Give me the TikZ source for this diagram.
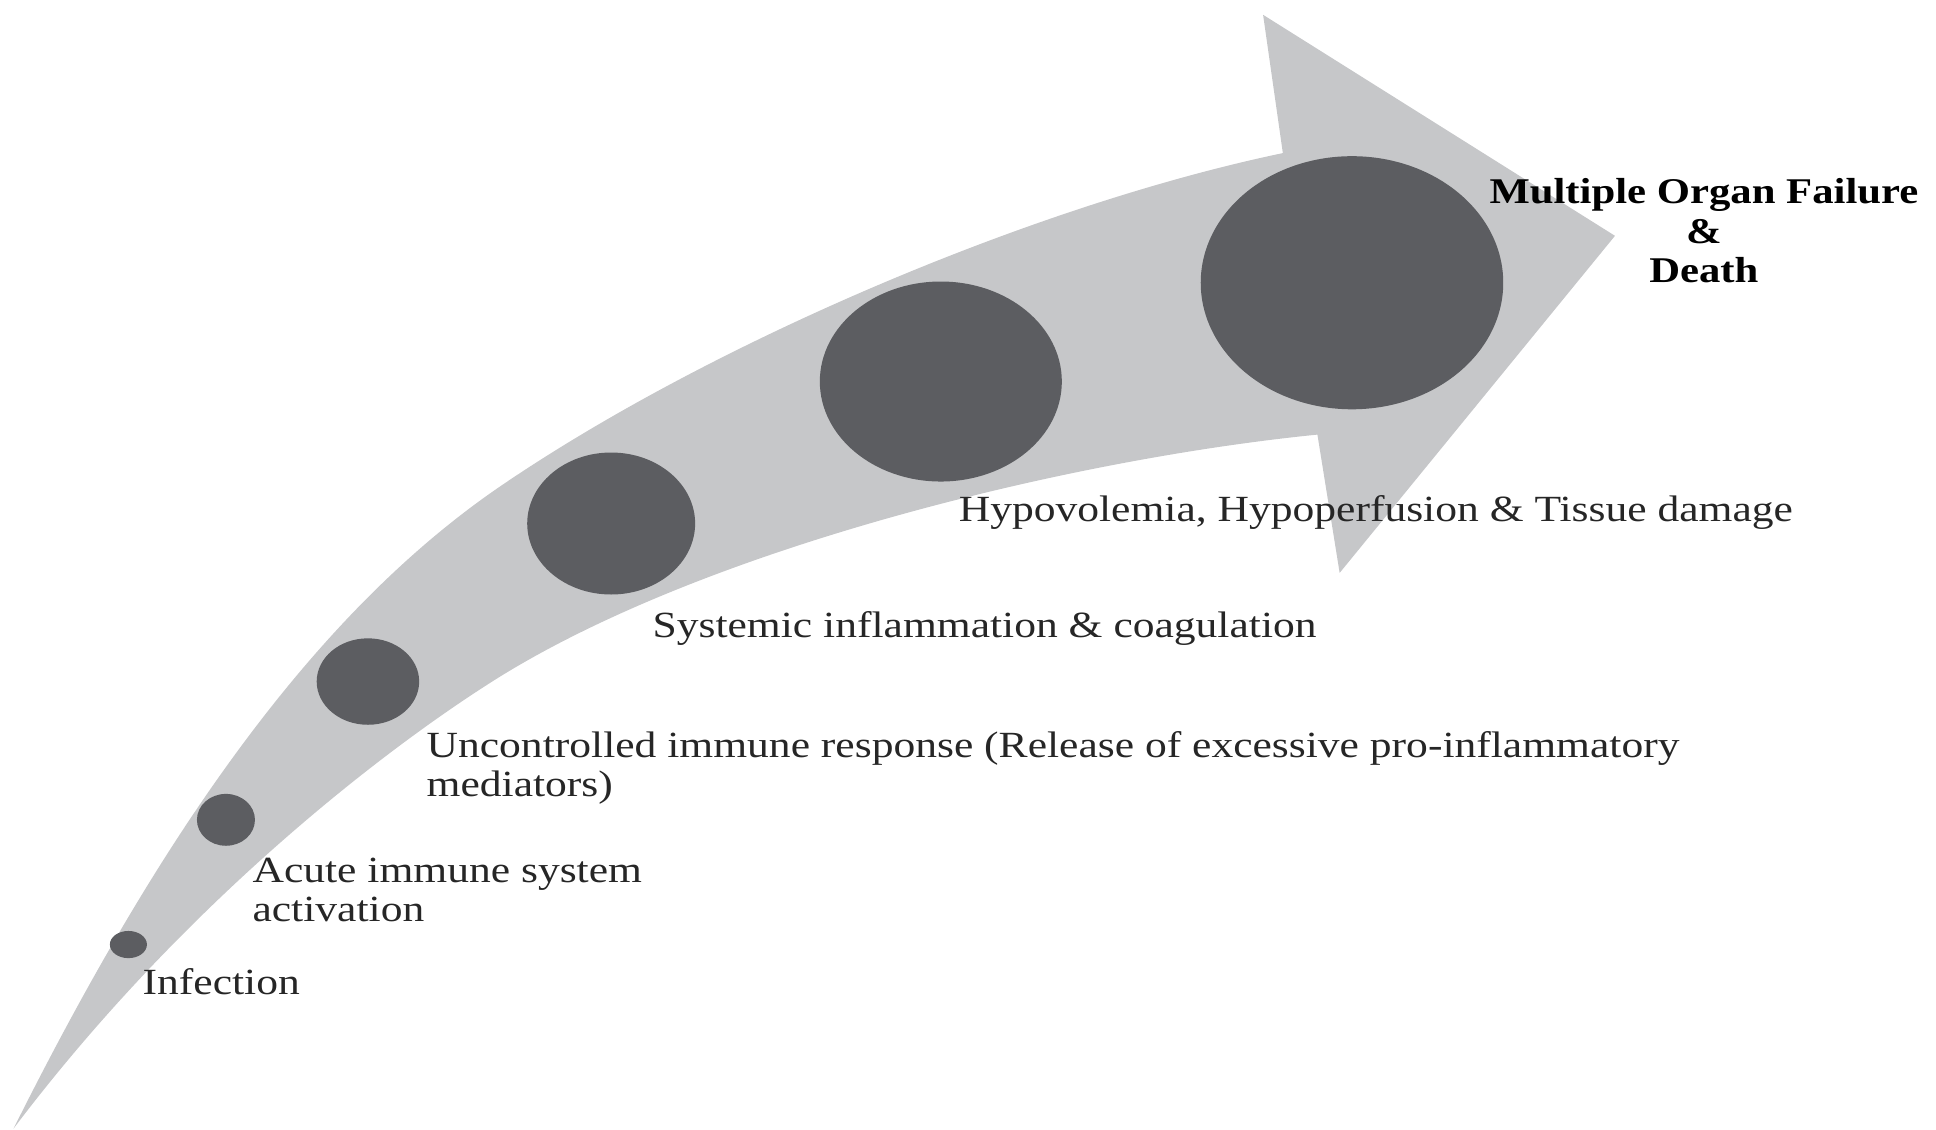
\documentclass[tikz,border=0pt]{standalone}
\usepackage{fontspec}
\setmainfont{Liberation Serif}[FakeStretch=1.18]
\usepackage{tikz}
\usetikzlibrary{shapes.geometric}
\definecolor{bandgray}{RGB}{198,199,201}
\definecolor{dotgray}{RGB}{92,93,97}
\newcommand{\dpx}{0.12347mm}

\begin{document}
\begin{tikzpicture}[x=0.12347mm, y=-0.12347mm, every node/.style={font=\fontsize{10.5}{11.2}\selectfont}]
\tikzset{band/.style={fill=bandgray}}
\tikzset{stage/.style={ellipse, fill=dotgray, inner sep=0pt}}
\tikzset{lbl/.style={anchor=west, align=left, inner sep=0pt, text=black!85}}
\useasboundingbox (0,0) rectangle (1568,915);
\coordinate (tail) at (11,914);
\coordinate (up) at (405,394);
\coordinate (low) at (405,548);
\fill[band] (tail) .. controls (126,684) and (250,500) .. (up)
  .. controls (575,278) and (838,166) .. (1039,124)
  -- (1023,12) -- (1308,191) -- (1085,464) -- (1067,352)
  .. controls (867,372) and (575,443) .. (low)
  .. controls (315,604) and (150,730) .. (tail) -- cycle;
\node[stage, minimum width=30*\dpx, minimum height=22*\dpx] (s1) at (104,765) {};
\node[stage, minimum width=47*\dpx, minimum height=42*\dpx] (s2) at (183,664) {};
\node[stage, minimum width=83*\dpx, minimum height=70*\dpx] (s3) at (298,552) {};
\node[stage, minimum width=136*\dpx, minimum height=115*\dpx] (s4) at (495,424) {};
\node[stage, minimum width=196*\dpx, minimum height=162*\dpx] (s5) at (762,309) {};
\node[stage, minimum width=245*\dpx, minimum height=205*\dpx] (s6) at (1095,229) {};
\node[lbl] (inf) at (115,795) {Infection};
\node[lbl] (acute) at (204,721) {Acute immune system\\activation};
\node[lbl] (unc) at (345,622) {Uncontrolled immune response (Release of excessive pro-inflammatory\\mediators)};
\node[lbl] (sys) at (528,509) {Systemic inflammation \& coagulation};
\node[lbl] (hyp) at (776,415) {Hypovolemia, Hypoperfusion \& Tissue damage};
\node[align=center, inner sep=0pt, font=\fontsize{10.3}{11.2}\selectfont\bfseries] (mof) at (1380,187) {Multiple Organ Failure\\\&\\Death};
\end{tikzpicture}
\end{document}
